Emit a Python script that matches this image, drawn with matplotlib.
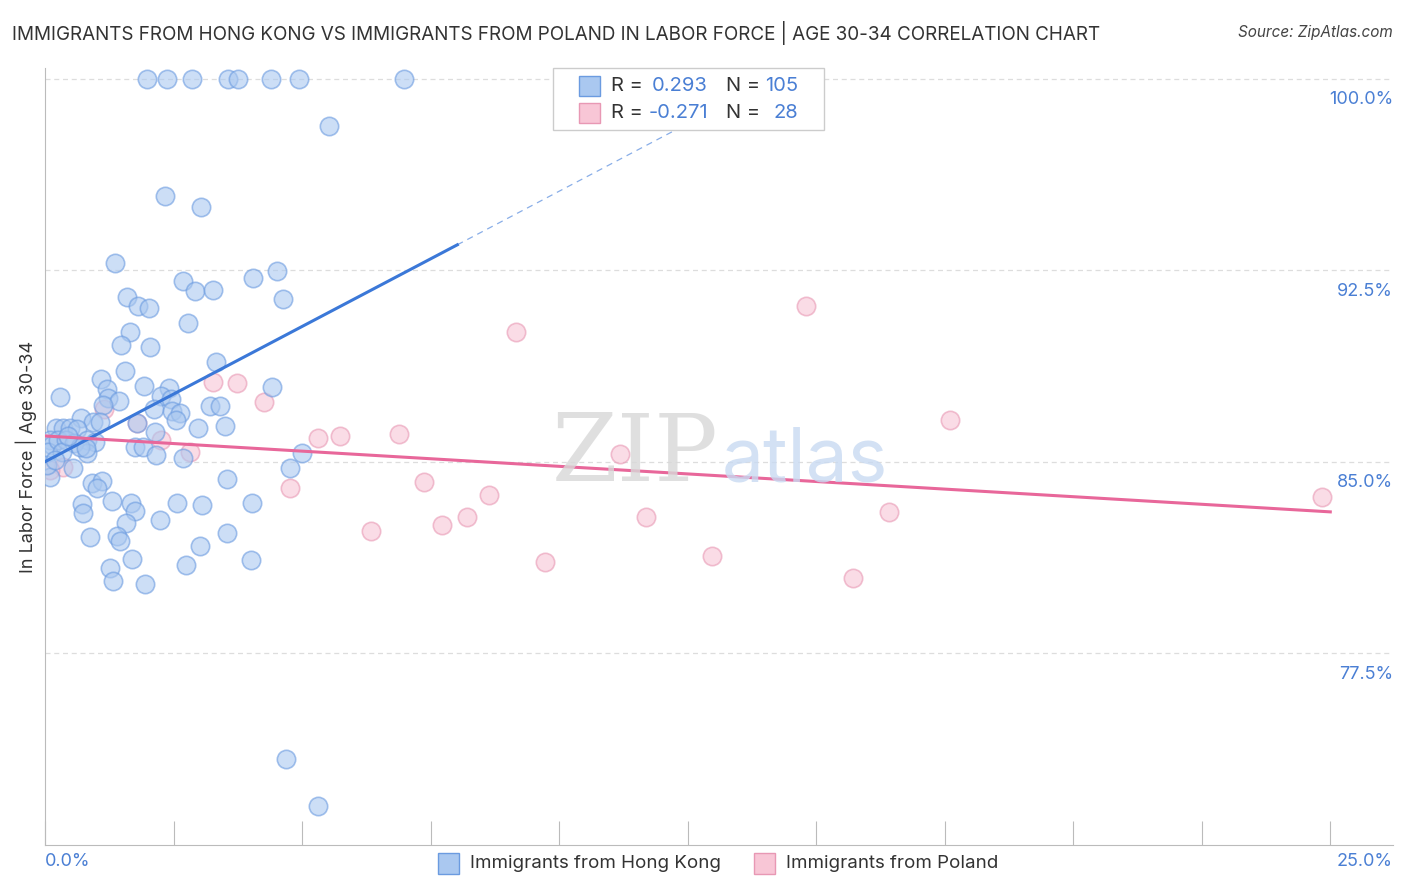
import matplotlib.pyplot as plt
import matplotlib.transforms as mtransforms
from matplotlib.patches import Rectangle
import numpy as np

plt.rcParams['font.family'] = ['Inter', 'DejaVu Sans']

# Immigrants from Hong Kong (x = % , y = % in labor force, age 30-34)
hk_x = [1.98, 2.37, 2.86, 3.56, 3.75, 4.40, 4.94, 6.98, 5.53,
        2.33, 3.04, 1.36, 2.68, 2.92, 3.27, 4.05, 4.51, 4.63,
        1.60, 1.81, 2.02, 2.78, 1.65, 1.48, 2.04, 3.33, 1.56, 1.09,
        1.93, 2.41, 4.42, 0.29, 1.21, 1.23, 1.44, 1.13,
        2.26, 2.45, 2.12, 2.47, 2.63, 2.55, 3.21, 3.40, 2.98, 3.50,
        0.70, 0.93, 1.07, 1.79, 2.14, 0.21, 0.35, 0.49, 0.62,
        0.82, 0.97, 0.10, 1.75, 1.91, 2.16, 2.68, 0.82, 0.54, 0.10,
        5.00, 4.77, 3.54, 0.91, 1.11, 1.01, 1.30, 1.67, 1.75, 0.72, 0.74,
        2.57, 3.05, 4.03, 2.24, 1.58, 0.88, 1.40, 1.46, 3.54, 3.02,
        1.69, 2.74, 4.01, 1.26, 1.32, 1.95, 4.69, 5.31,
        0.14, 0.06, 0.25, 0.41, 0.56, 0.68, 0.33, 0.80, 0.04, 0.19, 0.45]
hk_y = [100.0, 100.0, 100.0, 100.0, 100.0, 100.0, 100.0, 100.0, 98.16,
        95.42, 94.98, 92.79, 92.08, 91.69, 91.73, 92.20, 92.48, 91.38,
        91.46, 91.10, 91.03, 90.44, 90.09, 89.58, 89.50, 88.91, 88.56, 88.24,
        87.97, 87.89, 87.93, 87.54, 87.85, 87.50, 87.38, 87.23,
        87.58, 87.46, 87.07, 86.99, 86.91, 86.64, 87.19, 87.19, 86.32, 86.40,
        86.72, 86.56, 86.56, 86.52, 86.17, 86.32, 86.32, 86.32, 86.29,
        85.85, 85.78, 85.85, 85.58, 85.58, 85.27, 85.15, 85.34, 84.76, 84.40,
        85.34, 84.76, 84.33, 84.17, 84.25, 83.97, 83.46, 83.39, 83.07, 83.35, 83.00,
        83.39, 83.31, 83.39, 82.72, 82.60, 82.05, 82.09, 81.90, 82.21, 81.70,
        81.19, 80.96, 81.15, 80.84, 80.33, 80.21, 73.35, 71.51,
        85.66, 85.38, 85.85, 85.85, 85.74, 85.58, 85.38, 85.54, 84.87, 85.07, 86.01]

# Immigrants from Poland
pl_x = [1.15, 1.79, 2.26, 2.82, 3.27, 3.74, 4.26, 4.77, 5.31, 5.74,
        6.34, 6.89, 7.37, 7.72, 8.21, 8.64, 9.16, 9.73, 11.19, 11.69,
        12.98, 14.81, 15.72, 16.42, 17.61, 24.84, 0.35, 0.10]
pl_y = [87.07, 86.52, 85.85, 85.38, 88.13, 88.09, 87.34, 83.97, 85.93, 86.01,
        82.29, 86.09, 84.21, 82.52, 82.84, 83.70, 90.09, 81.07, 85.31, 82.84,
        81.31, 91.10, 80.45, 83.03, 86.64, 83.62, 84.80, 84.68]

# trend lines: intercept, slope (per % point)
hk_trend = [85.0, 1.06]
pl_trend = [86.01, -0.119]
hk_solid_end = 8.02

yticks = [77.5, 85.0, 92.5, 100.0]
xlim = (0, 26.22)
ylim = (69.98, 100.43)

blue = '#3b78d8'
blue_face = '#aac8f0'
blue_edge = '#6b9be0'
pink = '#e8679a'
pink_face = '#f8c6d6'
pink_edge = '#e898b4'
label_blue = '#4a7fd4'

fig = plt.figure(figsize=(14.06, 8.92), dpi=100)
ax = fig.add_axes([45 / 1406, 1 - 845 / 892, 1348 / 1406, (845 - 68) / 892])
ax.set_xlim(*xlim)
ax.set_ylim(*ylim)

for v in yticks:
    ax.axhline(v, color='#dddddd', linestyle=(0, (4, 3)), linewidth=0.9, zorder=0)

ax.scatter(hk_x, hk_y, s=175, facecolor=blue_face, edgecolor=blue_edge,
           alpha=0.6, linewidth=1.2, zorder=3)
ax.scatter(pl_x, pl_y, s=175, facecolor=pink_face, edgecolor=pink_edge,
           alpha=0.6, linewidth=1.2, zorder=2)

# Hong Kong trend: solid then dashed extension
xs = np.array([0, hk_solid_end])
ax.plot(xs, hk_trend[0] + hk_trend[1] * xs, color=blue, linewidth=2.2, zorder=4)
xd = np.array([hk_solid_end, 25])
ax.plot(xd, hk_trend[0] + hk_trend[1] * xd, color=blue, linewidth=0.9,
        linestyle=(0, (5, 4)), alpha=0.6, zorder=4)
xp = np.array([0, 25])
ax.plot(xp, pl_trend[0] + pl_trend[1] * xp, color=pink, linewidth=2.2, zorder=4)

# spines and ticks
for s in ['top', 'right']:
    ax.spines[s].set_visible(False)
ax.spines['left'].set_color('#bbbbbb')
ax.spines['bottom'].set_color('#bbbbbb')
ax.set_yticks([])
ax.set_xticks(np.arange(0, 25.1, 2.5))
ax.tick_params(axis='x', direction='in', length=17, color='#bbbbbb', labelbottom=False)

# right side y labels
trans = mtransforms.blended_transform_factory(ax.transAxes, ax.transData)
off = mtransforms.offset_copy(trans, fig=fig, x=0, y=-9, units='points')
for v in yticks:
    ax.text(1.0, v, f'{v:.1f}%', transform=off, ha='right', va='top',
            fontsize=13, color=label_blue)

fig.text(45 / 1406, 1 - 862 / 892, '0.0%', ha='left', va='center', fontsize=13, color=label_blue)
fig.text(1393 / 1406, 1 - 862 / 892, '25.0%', ha='right', va='center', fontsize=13, color=label_blue)

ax.set_ylabel('In Labor Force | Age 30-34', fontsize=13, color='#333333', labelpad=6)

fig.text(12 / 1406, 1 - 33 / 892, 'IMMIGRANTS FROM HONG KONG VS IMMIGRANTS FROM POLAND IN LABOR FORCE | AGE 30-34 CORRELATION CHART',
         ha='left', va='center', fontsize=13.6, color='#333333')
fig.text(1393 / 1406, 1 - 33 / 892, 'Source: ZipAtlas.com', ha='right', va='center',
         fontsize=11, style='italic', color='#444444')

# watermark
fig.text(635 / 1406, 1 - 455 / 892, 'ZIP', ha='center', va='center', fontsize=68,
         family='DejaVu Serif', color='#d8d8d8', alpha=0.8, zorder=0)
fig.text(805 / 1406, 1 - 462 / 892, 'atlas', ha='center', va='center', fontsize=54,
         color='#c8daf2', alpha=0.8, zorder=0)

# top legend box
lx0, ly0, lw, lh = 553 / 1406, 1 - 130 / 892, 271 / 1406, 62 / 892
fig.patches.append(Rectangle((lx0, ly0), lw, lh, transform=fig.transFigure,
                             facecolor='white', edgecolor='#cccccc', linewidth=1, zorder=5))
rows = [(86, blue_face, blue_edge, '0.293', '105'),
        (113, pink_face, pink_edge, '-0.271', '28')]
for py, fc, ec, r, n in rows:
    fig.patches.append(Rectangle((579 / 1406, 1 - (py + 10) / 892), 21 / 1406, 20 / 892,
                                 transform=fig.transFigure, facecolor=fc, edgecolor=ec,
                                 linewidth=1, zorder=6))
    fig.text(611 / 1406, 1 - py / 892, 'R = ', ha='left', va='center', fontsize=14.5,
             color='#333333', zorder=7)
    fig.text(708 / 1406, 1 - py / 892, r, ha='right', va='center', fontsize=14.5,
             color=label_blue, zorder=7)
    fig.text(726 / 1406, 1 - py / 892, 'N = ', ha='left', va='center', fontsize=14.5,
             color='#333333', zorder=7)
    fig.text(798 / 1406, 1 - py / 892, n, ha='right', va='center', fontsize=14.5,
             color=label_blue, zorder=7)

# bottom legend
for px, fc, ec, name in [(438, blue_face, blue_edge, 'Immigrants from Hong Kong'),
                         (754, pink_face, pink_edge, 'Immigrants from Poland')]:
    fig.patches.append(Rectangle((px / 1406, 1 - 874 / 892), 21 / 1406, 21 / 892,
                                 transform=fig.transFigure, facecolor=fc, edgecolor=ec,
                                 linewidth=1))
    fig.text((px + 32) / 1406, 1 - 864 / 892, name, ha='left', va='center',
             fontsize=13.5, color='#333333')

fig.savefig('out.png', dpi=100)
